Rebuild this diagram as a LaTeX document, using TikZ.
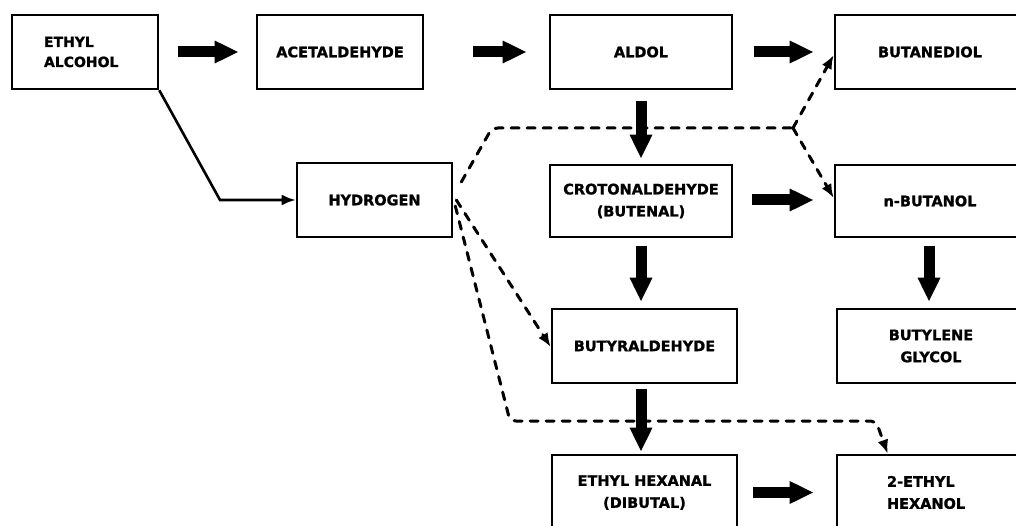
\documentclass[tikz,border=0pt]{standalone}
\usepackage{fontspec}
\setmainfont{DejaVu Sans}
\newfontfamily\boxfont[BoldFeatures={FakeBold=1.2}]{DejaVu Sans}
\usetikzlibrary{arrows.meta,calc}
\begin{document}
\begin{tikzpicture}[x=1pt,y=-1pt,
  box/.style={draw,line width=2.6pt,minimum height=74pt,inner sep=0pt,font=\boxfont\bfseries\fontsize{14.5}{22}\selectfont,align=center},
  fat/.style={line width=11pt,-{Triangle[length=24pt,width=21pt]}},
  thinarrow/.style={line width=2.6pt,-{Latex[length=14pt,width=11pt]}},
  dsh/.style={line width=3pt,dash pattern=on 8pt off 8pt,line cap=round,rounded corners=6pt},
  dsharrow/.style={dsh,-{Latex[length=14pt,width=11pt]}}]
\useasboundingbox (0,0) rectangle (1016,526);
\fill[white] (0,0) rectangle (1016,526);
\clip (0,0) rectangle (1016,526);

% boxes
\node[box,minimum width=146pt,text width=82pt,align=left,font=\boxfont\bfseries\fontsize{14}{20}\selectfont] (eth) at (85,52) {ETHYL\\ALCOHOL};
\node[box,minimum width=166pt] (acet) at (340,52) {ACETALDEHYDE};
\node[box,minimum width=182pt] (aldol) at (641,52) {ALDOL};
\node[box,minimum width=190pt] (butd) at (930,52) {BUTANEDIOL};
\node[box,minimum width=155pt] (hyd) at (374.5,200) {HYDROGEN};
\node[box,minimum width=182pt,minimum height=72pt] (crot) at (641,201) {CROTONALDEHYDE\\(BUTENAL)};
\node[box,minimum width=190pt,minimum height=72pt] (nbut) at (930,201) {n-BUTANOL};
\node[box,minimum width=185pt] (butyr) at (644.5,346) {BUTYRALDEHYDE};
\node[box,minimum width=188pt] (glyc) at (931,346) {BUTYLENE\\GLYCOL};
\node[box,minimum width=185pt,minimum height=75pt] (hexal) at (644.5,492.5) {ETHYL HEXANAL\\(DIBUTAL)};
\node[box,minimum width=188pt,minimum height=75pt,text width=88pt,align=left] (ehex) at (931,492.5) {2-ETHYL\\HEXANOL};

% fat arrows
\draw[fat] ($(eth.east)+(19,0)$) -- ($(acet.west)+(-17,0)$);
\draw[fat] ($(acet.east)+(49,0)$) -- ($(aldol.west)+(-22,0)$);
\draw[fat] ($(aldol.east)+(21,0)$) -- ($(butd.west)+(-20,0)$);
\draw[fat] ($(aldol.south)+(0,11)$) -- ($(crot.north)+(0,-5)$);
\draw[fat] ($(crot.east)+(19,-1)$) -- ($(nbut.west)+(-20,-1)$);
\draw[fat] ($(crot.south)+(0,8)$) -- ($(crot.south |- butyr.north)+(0,-6)$);
\draw[fat] ($(nbut.south)+(-1,8)$) -- ($(nbut.south |- glyc.north)+(-1,-6)$);
\draw[fat] ($(crot.south |- butyr.south)+(0,5)$) -- ($(crot.south |- hexal.north)+(0,-2)$);
\draw[fat] ($(hexal.east)+(15,0)$) -- ($(ehex.west)+(-22,0)$);

% thin solid connector
\coordinate (bend) at (220,200);
\draw[thinarrow] (eth.south east) -- (bend) -- (hyd.west);

% dashed connectors
\coordinate (j1) at (492,128);
\coordinate (jn) at (793,128);
\coordinate (c1) at (510,421);
\coordinate (c2) at (876,421);
\draw[dsh] ($(hyd.east)+(8,-18)$) -- (j1) -- (jn);
\draw[dsharrow] (jn) -- ($(butd.west)+(0,3)$);
\draw[dsharrow] (jn) -- ($(nbut.west)+(0,-3)$);
\draw[dsharrow] ($(hyd.east)+(3,0)$) -- ($(butyr.west)+(0,1)$);
\draw[dsharrow] ($(hyd.east)+(2,6)$) -- (c1) -- (c2) -- ($(ehex.north west)+(52,0)$);
\end{tikzpicture}
\end{document}
